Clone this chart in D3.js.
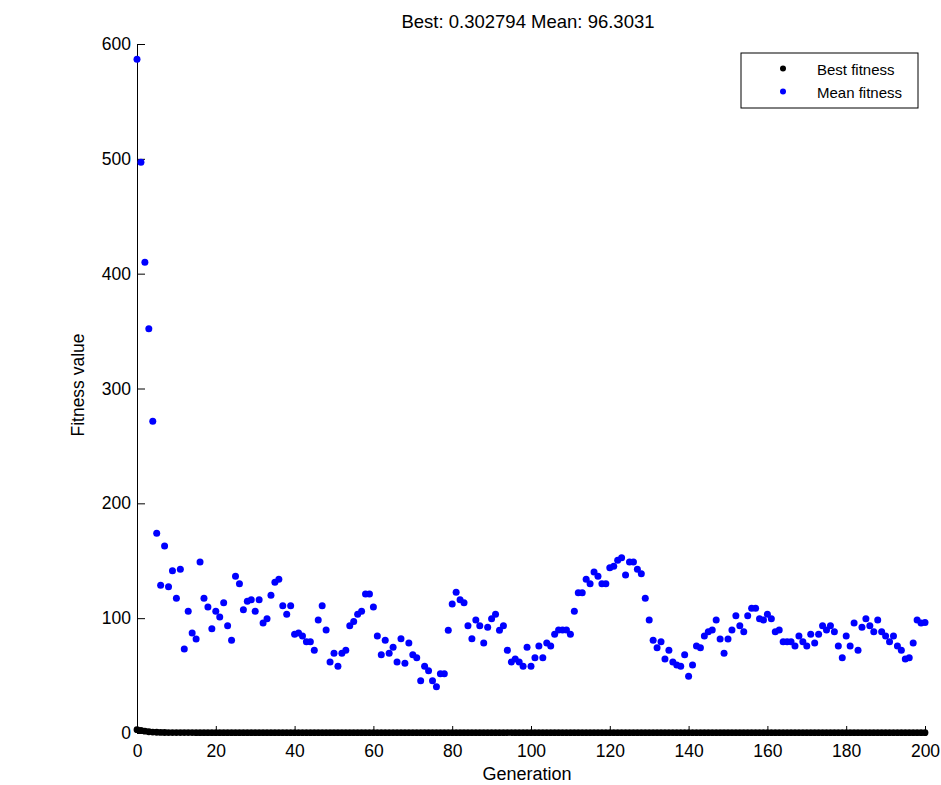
<!DOCTYPE html>
<html>
<head>
<meta charset="utf-8">
<script src="https://cdn.jsdelivr.net/npm/d3@7"></script>
<style>
  html, body { margin: 0; padding: 0; background: #fff; }
  svg { display: block; font-family: "Liberation Sans", Arial, sans-serif; }
</style>
</head>
<body>
<svg id="chart" width="941" height="785"></svg>
<script>
// Mean fitness of the population per generation (0..200)
const meanFitness = [
  586.7, 497, 410, 352, 271.4, 173.9, 128.6, 162.8, 127.4, 141.3,
  117.3, 142.5, 73.1, 106, 87, 81.9, 148.9, 117.3, 109.7, 90.8,
  106, 101, 113.5, 93.5, 80.7, 136.5, 130, 107.4, 114.7, 116.1,
  106, 116.1, 95.8, 99.5, 119.9, 131.2, 133.8, 110.9, 103.4, 110.9,
  85.9, 87.1, 84.5, 79.5, 79.5, 72, 98.4, 110.9, 89.7, 61.8,
  69.4, 58.1, 69.4, 72, 93.5, 97.2, 103.4, 106, 121, 121,
  109.7, 84.5, 68.2, 80.7, 69.4, 74.6, 61.8, 82.1, 60.7, 78.4,
  68.2, 65.6, 45.6, 58.1, 54.3, 45.6, 40.3, 51.7, 51.7, 89.4,
  112.3, 122.5, 116.1, 113.5, 93.5, 82.1, 98.4, 93.5, 78.4, 92,
  99.5, 103.4, 89.4, 93.5, 72, 61.8, 64.4, 61.8, 58.1, 74.6,
  58.1, 65.6, 75.8, 65.6, 78.4, 75.8, 85.9, 89.7, 89.7, 89.7,
  85.9, 106, 122.2, 122.2, 133.8, 130, 140.2, 136.5, 130, 130,
  144, 145.2, 150.4, 152.7, 137.6, 148.9, 148.9, 142.5, 138.7, 117.3,
  98.4, 80.7, 74.3, 79.5, 64.4, 72, 61.8, 59.2, 58.1, 68.2,
  49.4, 59.2, 75.8, 74.3, 84.5, 88.2, 89.7, 98.4, 81.9, 69.4,
  81.9, 89.7, 102.2, 93.5, 88.2, 102.2, 108.6, 108.6, 99.5, 98.4,
  103.4, 99.5, 88.2, 89.7, 79.5, 79.5, 79.5, 75.8, 84.5, 79.5,
  75.8, 85.9, 78.4, 85.9, 93.5, 89.7, 93.5, 88.2, 75.8, 65.6,
  84.5, 75.8, 95.8, 72, 92, 99.5, 93.5, 88.2, 98.4, 88.2,
  84.5, 79.5, 84.5, 75.8, 72, 64.4, 65.6, 78.4, 98.4, 95.8,
  96.3031
];

// Best fitness found per generation (0..200)
const bestFitness = [
  2.9, 2.2, 1.6, 1.1, 0.82, 0.64, 0.52, 0.45, 0.41, 0.38,
  0.36, 0.35, 0.34, 0.33, 0.33, 0.32, 0.32, 0.32, 0.31, 0.31,
  0.31, 0.31, 0.31, 0.31, 0.31, 0.31, 0.31, 0.31, 0.31, 0.31,
  0.31, 0.31, 0.31, 0.31, 0.31, 0.31, 0.31, 0.31, 0.31, 0.31,
  0.31, 0.31, 0.31, 0.31, 0.31, 0.31, 0.31, 0.31, 0.31, 0.31,
  0.302794, 0.302794, 0.302794, 0.302794, 0.302794, 0.302794, 0.302794, 0.302794, 0.302794, 0.302794,
  0.302794, 0.302794, 0.302794, 0.302794, 0.302794, 0.302794, 0.302794, 0.302794, 0.302794, 0.302794,
  0.302794, 0.302794, 0.302794, 0.302794, 0.302794, 0.302794, 0.302794, 0.302794, 0.302794, 0.302794,
  0.302794, 0.302794, 0.302794, 0.302794, 0.302794, 0.302794, 0.302794, 0.302794, 0.302794, 0.302794,
  0.302794, 0.302794, 0.302794, 0.302794, 0.302794, 0.302794, 0.302794, 0.302794, 0.302794, 0.302794,
  0.302794, 0.302794, 0.302794, 0.302794, 0.302794, 0.302794, 0.302794, 0.302794, 0.302794, 0.302794,
  0.302794, 0.302794, 0.302794, 0.302794, 0.302794, 0.302794, 0.302794, 0.302794, 0.302794, 0.302794,
  0.302794, 0.302794, 0.302794, 0.302794, 0.302794, 0.302794, 0.302794, 0.302794, 0.302794, 0.302794,
  0.302794, 0.302794, 0.302794, 0.302794, 0.302794, 0.302794, 0.302794, 0.302794, 0.302794, 0.302794,
  0.302794, 0.302794, 0.302794, 0.302794, 0.302794, 0.302794, 0.302794, 0.302794, 0.302794, 0.302794,
  0.302794, 0.302794, 0.302794, 0.302794, 0.302794, 0.302794, 0.302794, 0.302794, 0.302794, 0.302794,
  0.302794, 0.302794, 0.302794, 0.302794, 0.302794, 0.302794, 0.302794, 0.302794, 0.302794, 0.302794,
  0.302794, 0.302794, 0.302794, 0.302794, 0.302794, 0.302794, 0.302794, 0.302794, 0.302794, 0.302794,
  0.302794, 0.302794, 0.302794, 0.302794, 0.302794, 0.302794, 0.302794, 0.302794, 0.302794, 0.302794,
  0.302794, 0.302794, 0.302794, 0.302794, 0.302794, 0.302794, 0.302794, 0.302794, 0.302794, 0.302794,
  0.302794
];

const xTicks = [0, 20, 40, 60, 80, 100, 120, 140, 160, 180, 200];
const yTicks = [0, 100, 200, 300, 400, 500, 600];
const seriesNames = ["Best fitness", "Mean fitness"];
const seriesColors = ["#000000", "#0000ff"];

const svg = d3.select("#chart");

const x = d3.scaleLinear().domain([0, 200]).range([137, 925]);
const y = d3.scaleLinear().domain([0, 600]).range([733, 44]);

// Axes with inward ticks
const yAxis = svg.append("g")
  .attr("transform", `translate(${x(0)},0)`)
  .call(d3.axisLeft(y).tickValues(yTicks).tickSizeInner(-8).tickSizeOuter(0).tickPadding(6));

const xAxis = svg.append("g")
  .attr("transform", `translate(0,${y(0)})`)
  .call(d3.axisBottom(x).tickValues(xTicks).tickSizeInner(-7).tickSizeOuter(0).tickPadding(12));

[xAxis, yAxis].forEach(g => {
  g.selectAll("text").attr("font-size", 17.5).attr("fill", "#000")
    .attr("font-family", "Liberation Sans, Arial, sans-serif");
  g.selectAll("line").attr("stroke", "#000");
  g.select(".domain").attr("stroke", "#000").attr("stroke-width", 1);
});

const gens = d3.range(meanFitness.length);

// Best fitness markers
svg.append("g").selectAll("circle")
  .data(gens)
  .join("circle")
  .attr("cx", i => x(i))
  .attr("cy", i => y(bestFitness[i]))
  .attr("r", 3.4)
  .attr("fill", seriesColors[0]);

// Mean fitness markers
svg.append("g").selectAll("circle")
  .data(gens)
  .join("circle")
  .attr("cx", i => x(i))
  .attr("cy", i => y(meanFitness[i]))
  .attr("r", 3.5)
  .attr("fill", seriesColors[1]);

// Title
svg.append("text")
  .attr("x", 528).attr("y", 28)
  .attr("text-anchor", "middle")
  .attr("font-size", 18.5)
  .text(`Best: ${bestFitness[bestFitness.length - 1]} Mean: ${meanFitness[meanFitness.length - 1]}`);

// Axis labels
svg.append("text")
  .attr("x", 527).attr("y", 780)
  .attr("text-anchor", "middle")
  .attr("font-size", 18)
  .text("Generation");

svg.append("text")
  .attr("transform", "translate(84,385) rotate(-90)")
  .attr("text-anchor", "middle")
  .attr("font-size", 17.5)
  .text("Fitness value");

// Legend
const legend = svg.append("g");
legend.append("rect")
  .attr("x", 741).attr("y", 53)
  .attr("width", 177).attr("height", 55)
  .attr("fill", "#fff").attr("stroke", "#000").attr("stroke-width", 1);

seriesNames.forEach((name, i) => {
  const cy = 68.5 + i * 23;
  legend.append("circle")
    .attr("cx", 783).attr("cy", cy).attr("r", 3)
    .attr("fill", seriesColors[i]);
  legend.append("text")
    .attr("x", 817).attr("y", cy + 6)
    .attr("font-size", 15)
    .text(name);
});
</script>
</body>
</html>
